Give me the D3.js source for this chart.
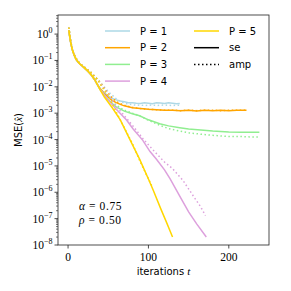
<!DOCTYPE html>
<html>
<head>
<meta charset="utf-8">
<script src="https://cdn.jsdelivr.net/npm/d3@7"></script>
<style>
  body { margin: 0; background: #fff; }
  svg { display: block; }
</style>
</head>
<body>
<div class="chart-container"></div>
<script>
/* Data
   ========================================================================== */
// early part, all P together
var tEarlySe  = [1, 2, 3, 4, 5, 6, 8, 10, 12, 15, 18, 21, 25, 29, 33, 36];
var seEarly   = [1.41, 0.83, 0.54, 0.38, 0.28, 0.22, 0.15, 0.11, 0.091, 0.072, 0.060, 0.050, 0.038, 0.028, 0.019, 0.013];
var tEarlyAmp = [1, 2, 3, 4, 5, 6, 8, 10, 12, 15, 18, 21, 25, 29, 33, 36];
var ampEarly  = [1.78, 1.05, 0.63, 0.42, 0.30, 0.23, 0.16, 0.12, 0.095, 0.076, 0.063, 0.054, 0.043, 0.034, 0.025, 0.020];

// P = 1
var tSe1  = [40, 45, 50, 55, 60, 65, 70, 75, 80, 85, 90, 95, 100, 105, 110, 115, 120, 125, 130, 135, 139];
var se1   = [8.5e-3, 6.0e-3, 4.5e-3, 3.6e-3, 3.2e-3, 2.9e-3, 2.7e-3, 2.5e-3, 2.5e-3, 2.4e-3, 2.35e-3, 2.5e-3, 2.4e-3, 2.3e-3, 2.5e-3, 2.45e-3, 2.35e-3, 2.5e-3, 2.4e-3, 2.3e-3, 2.35e-3];
var tAmp1 = [40, 45, 50, 55, 60, 65, 70, 75, 80, 85, 90, 95, 100, 105, 110, 115, 120, 125, 130, 135, 139];
var amp1  = [1.5e-2, 1.0e-2, 6.6e-3, 4.8e-3, 3.5e-3, 2.8e-3, 2.4e-3, 2.2e-3, 2.1e-3, 2.0e-3, 2.05e-3, 1.95e-3, 2.0e-3, 2.05e-3, 1.95e-3, 2.0e-3, 2.05e-3, 2.0e-3, 1.95e-3, 2.0e-3, 2.0e-3];

// P = 2
var tSe2  = [40, 45, 50, 55, 60, 65, 70, 80, 90, 100, 110, 120, 130, 140, 150, 160, 170, 180, 190, 200, 210, 222];
var se2   = [8.5e-3, 5.6e-3, 4.0e-3, 3.0e-3, 2.5e-3, 2.15e-3, 1.9e-3, 1.6e-3, 1.5e-3, 1.4e-3, 1.35e-3, 1.3e-3, 1.3e-3, 1.25e-3, 1.3e-3, 1.2e-3, 1.3e-3, 1.25e-3, 1.3e-3, 1.25e-3, 1.3e-3, 1.3e-3];
var tAmp2 = [40, 45, 50, 55, 60, 65, 70, 80, 90, 100, 110, 120, 130, 140, 150, 160, 170, 180, 190, 200, 210, 222];
var amp2  = [1.5e-2, 8.9e-3, 5.6e-3, 3.8e-3, 2.8e-3, 2.3e-3, 2.0e-3, 1.65e-3, 1.5e-3, 1.4e-3, 1.35e-3, 1.3e-3, 1.3e-3, 1.25e-3, 1.3e-3, 1.25e-3, 1.3e-3, 1.3e-3, 1.25e-3, 1.3e-3, 1.3e-3, 1.3e-3];

// P = 3
var tSe3  = [40, 45, 50, 55, 60, 70, 80, 89, 100, 114, 125, 139, 150, 165, 180, 200, 215, 228, 238];
var se3   = [7.9e-3, 5.0e-3, 3.2e-3, 2.3e-3, 1.74e-3, 1.2e-3, 9.5e-4, 8.0e-4, 5.6e-4, 4.0e-4, 3.3e-4, 2.8e-4, 2.5e-4, 2.3e-4, 2.1e-4, 1.95e-4, 1.9e-4, 1.9e-4, 1.9e-4];
var tAmp3 = [40, 45, 50, 55, 60, 70, 80, 89, 100, 114, 125, 139, 150, 165, 180, 200, 215, 228, 238];
var amp3  = [1.4e-2, 7.9e-3, 4.5e-3, 2.8e-3, 2.0e-3, 1.3e-3, 1.0e-3, 7.9e-4, 5.4e-4, 3.5e-4, 2.6e-4, 2.1e-4, 1.8e-4, 1.6e-4, 1.45e-4, 1.3e-4, 1.3e-4, 1.25e-4, 1.25e-4];

// P = 4
var tSe4  = [40, 50, 60, 73, 81, 93, 102, 110, 120, 127, 140, 150, 160, 172];
var se4   = [7.9e-3, 3.2e-3, 1.4e-3, 5.4e-4, 2.5e-4, 9.3e-5, 3.5e-5, 1.8e-5, 7.1e-6, 3.2e-6, 6.3e-7, 1.8e-7, 6.3e-8, 2.0e-8];
var tAmp4 = [40, 50, 60, 73, 81, 93, 100, 108, 120, 130, 143, 155, 165, 171];
var amp4  = [1.4e-2, 5.0e-3, 1.8e-3, 6.3e-4, 3.2e-4, 1.1e-4, 6.3e-5, 3.4e-5, 1.4e-5, 7.9e-6, 2.8e-6, 7.9e-7, 2.8e-7, 1.3e-7];

// P = 5
var tSe5  = [40, 45, 55, 65, 77, 89, 100, 106, 115, 122, 130];
var se5   = [7.6e-3, 4.2e-3, 1.6e-3, 5.6e-4, 1.0e-4, 1.8e-5, 3.2e-6, 1.2e-6, 2.5e-7, 7.9e-8, 2.0e-8];
var tAmp5 = [40, 50, 60, 70, 80, 90, 97, 104];
var amp5  = [1.26e-2, 4.5e-3, 1.1e-3, 2.8e-4, 7.1e-5, 1.4e-5, 5.0e-6, 1.8e-6];

var seriesNames = ["P = 1", "P = 2", "P = 3", "P = 4", "P = 5"];
var seriesColors = ["#add8e6", "#ffa500", "#90ee90", "#dda0dd", "#ffd700"];
var xTicks = [0, 100, 200];
var yTickExps = [0, -1, -2, -3, -4, -5, -6, -7, -8];
var annSymbols = ["\u03b1", "\u03c1"];
var annValues = ["= 0.75", "= 0.50"];

/* Chart
   ========================================================================== */
var W = 291, H = 291;
var margin = { top: 15, right: 22, bottom: 46, left: 58 };
var width = W - margin.left - margin.right,
    height = H - margin.top - margin.bottom;

var x = d3.scaleLinear().domain([-12.5, 250]).range([0, width]);
var y = d3.scaleLog().domain([1e-8, 5.3]).range([height, 0]);

var svg = d3.select(".chart-container").append("svg")
    .attr("width", W)
    .attr("height", H);

var g = svg.append("g")
    .attr("transform", "translate(" + margin.left + "," + margin.top + ")");

// clip to the axes box
g.append("clipPath").attr("id", "clip")
  .append("rect").attr("width", width).attr("height", height);

function zip(ts, vs) {
    return ts.map(function(t, i) { return [t, vs[i]]; });
}

var line = d3.line()
    .x(function(d) { return x(d[0]); })
    .y(function(d) { return y(d[1]); });

var seSets  = [[tSe1, se1], [tSe2, se2], [tSe3, se3], [tSe4, se4], [tSe5, se5]];
var ampSets = [[tAmp1, amp1], [tAmp2, amp2], [tAmp3, amp3], [tAmp4, amp4], [tAmp5, amp5]];

var plot = g.append("g").attr("clip-path", "url(#clip)");

seriesColors.forEach(function(c, i) {
    var se = zip(tEarlySe, seEarly).concat(zip(seSets[i][0], seSets[i][1]));
    var amp = zip(tEarlyAmp, ampEarly).concat(zip(ampSets[i][0], ampSets[i][1]));
    plot.append("path")
        .attr("d", line(se))
        .attr("fill", "none")
        .attr("stroke", c)
        .attr("stroke-width", 1.5);
    plot.append("path")
        .attr("d", line(amp))
        .attr("fill", "none")
        .attr("stroke", c)
        .attr("stroke-width", 1.5)
        .attr("stroke-dasharray", "1.5,2.5");
});

// frame
g.append("rect")
    .attr("width", width).attr("height", height)
    .attr("fill", "none").attr("stroke", "#222").attr("stroke-width", 0.8);

// x axis
var xAxis = g.append("g").attr("transform", "translate(0," + height + ")");
xTicks.forEach(function(t) {
    xAxis.append("line")
        .attr("x1", x(t)).attr("x2", x(t))
        .attr("y1", 0).attr("y2", 3.5)
        .attr("stroke", "#222").attr("stroke-width", 0.8);
    xAxis.append("text")
        .attr("x", x(t)).attr("y", 16)
        .attr("text-anchor", "middle")
        .style("font-family", "Liberation Serif, serif")
        .style("font-size", "11.5px")
        .text(t);
});

// y axis, major + minor ticks
var yAxis = g.append("g");
yTickExps.forEach(function(e) {
    var v = Math.pow(10, e);
    yAxis.append("line")
        .attr("x1", -3.5).attr("x2", 0)
        .attr("y1", y(v)).attr("y2", y(v))
        .attr("stroke", "#222").attr("stroke-width", 0.8);
    var txt = yAxis.append("text")
        .attr("x", -5.5).attr("y", y(v) + 4)
        .attr("text-anchor", "end")
        .style("font-family", "Liberation Serif, serif")
        .style("font-size", "11.5px");
    txt.append("tspan").text("10");
    txt.append("tspan")
        .attr("dy", -5)
        .style("font-size", "8px")
        .text(e === 0 ? "0" : "\u2212" + (-e));
    for (var k = 2; k <= 9; k++) {
        var mv = k * v;
        if (mv > 5.3) continue;
        yAxis.append("line")
            .attr("x1", -2).attr("x2", 0)
            .attr("y1", y(mv)).attr("y2", y(mv))
            .attr("stroke", "#222").attr("stroke-width", 0.6);
    }
});

// axis labels
svg.append("text")
    .attr("x", margin.left + width / 2).attr("y", 275)
    .attr("text-anchor", "middle")
    .style("font-family", "DejaVu Sans, sans-serif")
    .style("font-size", "10px")
    .html('iterations <tspan style="font-family:Liberation Serif, serif;font-style:italic;font-size:11px">t</tspan>');

svg.append("text")
    .attr("transform", "translate(22," + (margin.top + height / 2) + ") rotate(-90)")
    .attr("text-anchor", "middle")
    .style("font-family", "DejaVu Sans, sans-serif")
    .style("font-size", "10px")
    .html('MSE(<tspan style="font-family:Liberation Serif, serif;font-style:italic;font-size:11px">x\u0302</tspan>)');

// annotation: symbol and value as separate texts, side by side
var ann = svg.append("g")
    .style("font-family", "Liberation Serif, serif")
    .style("font-size", "11.5px");
annSymbols.forEach(function(s, i) {
    var sym = ann.append("text").attr("x", 79).attr("y", 210 + i * 13.5)
        .style("font-style", "italic")
        .text(s);
    var w = sym.node().getComputedTextLength();
    ann.append("text").attr("x", 79 + w + 4).attr("y", 210 + i * 13.5)
        .style("letter-spacing", "0.6px")
        .text(annValues[i]);
});

// legend, two columns
var legendItems = seriesNames.map(function(n, i) {
    return { label: n, color: seriesColors[i], dash: null };
}).concat([
    { label: "se", color: "#000", dash: null },
    { label: "amp", color: "#000", dash: "1.5,2.5" }
]);
var legend = svg.append("g")
    .style("font-family", "DejaVu Sans, sans-serif")
    .style("font-size", "10px");
legendItems.forEach(function(d, i) {
    var col = i < 4 ? 0 : 1, row = i < 4 ? i : i - 4;
    var lx = col === 0 ? 105 : 194, ly = 31 + row * 16.7;
    legend.append("line")
        .attr("x1", lx).attr("x2", lx + 25)
        .attr("y1", ly).attr("y2", ly)
        .attr("stroke", d.color).attr("stroke-width", 1.5)
        .attr("stroke-dasharray", d.dash);
    legend.append("text")
        .attr("x", lx + 35).attr("y", ly + 3.5)
        .text(d.label);
});
</script>
</body>
</html>
